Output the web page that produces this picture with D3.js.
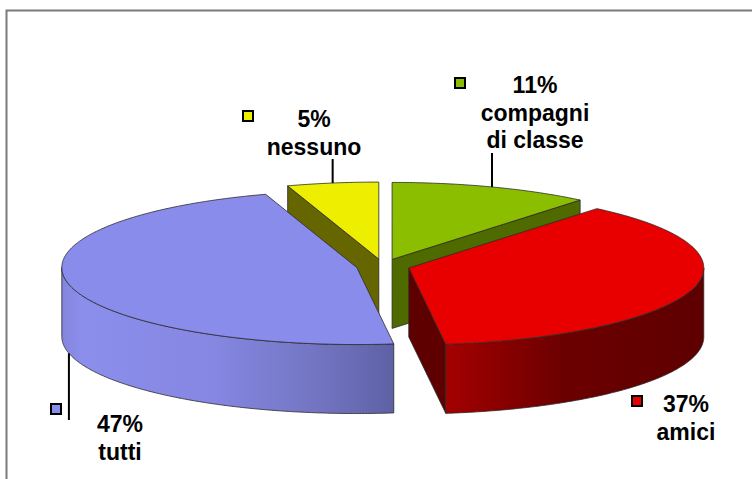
<!DOCTYPE html>
<html><head><meta charset="utf-8">
<script src="https://cdn.jsdelivr.net/npm/d3@7/dist/d3.min.js"></script>
<style>html,body{margin:0;padding:0;background:#fff;overflow:hidden} svg{display:block}</style>
</head><body>
<svg id="chart" width="752" height="479"></svg>
<script>
// ---- data ----
const categories = ["compagni di classe", "amici", "tutti", "nessuno"];
const values = [11, 37, 47, 5];
const percentLabels = ["11%", "37%", "47%", "5%"];
const nameLabels = [["compagni", "di classe"], ["amici"], ["tutti"], ["nessuno"]];

// ---- styles ----
const topColors = ["#8cbe00", "#e80000", "#8a8ceb", "#eeee00"];
const cutColors = ["#4f6b00", "#5e0000", "#5a5ba0", "#666600"];
const sideStops = [
  [["0", "#4f6b00"], ["1", "#4f6b00"]],
  [["0", "#a40000"], ["0.45", "#6c0000"], ["1", "#5e0000"]],
  [["0", "#8284dc"], ["0.06", "#8c8eec"], ["0.45", "#8587e2"], ["0.75", "#7476c4"], ["1", "#5f61a6"]],
  [["0", "#666600"], ["1", "#666600"]]
];

// ---- layout ----
const cx = 383, cy = 266, rx = 295, ry = 77, depth = 69, explode = 0.091;
const labelLayout = [
  {x: 535, y: 93, mx: 454, my: 77, leaderTo: 153, fromBottom: false},
  {x: 686, y: 412, mx: 631, my: 395, leaderTo: null, fromBottom: false},
  {x: 120, y: 432, mx: 50, my: 403, leaderTo: 420, fromBottom: true},
  {x: 314, y: 127, mx: 242, my: 110, leaderTo: 159, fromBottom: false}
];
const lineH = 27.5;

const svg = d3.select("#chart");
const defs = svg.append("defs");

// frame
svg.append("path").attr("d", "M6.5,479V10.5H752")
  .attr("fill", "none").attr("stroke", "#7a7a7a").attr("stroke-width", 2);

// projection scales (unit circle -> screen ellipse)
const sx = d3.scaleLinear().domain([-1, 1]).range([-rx, rx]);
const sy = d3.scaleLinear().domain([-1, 1]).range([ry, -ry]);

const pie = d3.pie().sort(null).value(d => d).startAngle(0).endAngle(2 * Math.PI);
const arcs = pie(values);

function centerOf(a) {
  const m = (a.startAngle + a.endAngle) / 2;
  return [cx + explode * sx(Math.sin(m)), cy + explode * sy(Math.cos(m))];
}
function pt(c, t, dy = 0) {
  return [c[0] + sx(Math.sin(t)), c[1] + sy(Math.cos(t)) + dy];
}
function samples(c, t0, t1, dy = 0) {
  const n = Math.max(2, Math.ceil((t1 - t0) / 0.01));
  return d3.range(n + 1).map(i => pt(c, t0 + (t1 - t0) * i / n, dy));
}
const line = d3.line();
const stroke = "#2a2a2a", sw = 0.8;

const order = [3, 0, 2, 1];
order.forEach(i => {
  const a = arcs[i];
  const c = centerOf(a);
  const g = svg.append("g");
  // cut faces
  const faces = [];
  if (Math.sin(a.startAngle) < -1e-6) faces.push(a.startAngle);
  if (Math.sin(a.endAngle) > 1e-6) faces.push(a.endAngle);
  faces.forEach(t => {
    const p = pt(c, t);
    g.append("path")
      .attr("d", line([c, p, [p[0], p[1] + depth], [c[0], c[1] + depth]]) + "Z")
      .attr("fill", cutColors[i]).attr("stroke", stroke).attr("stroke-width", sw)
      .attr("stroke-linejoin", "round");
  });
  // outer side (front half)
  const s0 = Math.max(a.startAngle, Math.PI / 2), s1 = Math.min(a.endAngle, 3 * Math.PI / 2);
  if (s1 > s0) {
    const top = samples(c, s0, s1);
    const bot = samples(c, s0, s1, depth).reverse();
    const xs = top.map(p => p[0]);
    const gid = "side" + i;
    const lg = defs.append("linearGradient").attr("id", gid)
      .attr("gradientUnits", "userSpaceOnUse")
      .attr("x1", d3.min(xs)).attr("x2", d3.max(xs)).attr("y1", 0).attr("y2", 0);
    sideStops[i].forEach(s => lg.append("stop").attr("offset", s[0]).attr("stop-color", s[1]));
    g.append("path").attr("d", line(top.concat(bot)) + "Z")
      .attr("fill", `url(#${gid})`).attr("stroke", stroke).attr("stroke-width", sw)
      .attr("stroke-linejoin", "round");
  }
  // top face
  const topPts = [c].concat(samples(c, a.startAngle, a.endAngle));
  g.append("path").attr("d", line(topPts) + "Z")
    .attr("fill", topColors[i]).attr("stroke", stroke).attr("stroke-width", sw)
    .attr("stroke-linejoin", "round");
});

// labels, leaders and legend keys
arcs.forEach((a, i) => {
  const L = labelLayout[i];
  const c = centerOf(a);
  const m = (a.startAngle + a.endAngle) / 2;
  if (L.leaderTo !== null) {
    const p = pt(c, m, L.fromBottom ? depth : 0);
    svg.append("line").attr("x1", p[0]).attr("y1", p[1]).attr("x2", p[0]).attr("y2", L.leaderTo)
      .attr("stroke", "#000").attr("stroke-width", 2);
  }
  svg.append("rect").attr("x", L.mx + 1).attr("y", L.my + 1).attr("width", 10).attr("height", 10)
    .attr("fill", topColors[i]).attr("stroke", "#000").attr("stroke-width", 2);
  const lines = [percentLabels[i]].concat(nameLabels[i]);
  const t = svg.append("text").attr("text-anchor", "middle")
    .attr("font-family", "'Liberation Sans', Arial, sans-serif")
    .attr("font-weight", "bold").attr("font-size", 23).attr("fill", "#000");
  lines.forEach((s, k) => t.append("tspan").attr("x", L.x).attr("y", L.y + k * lineH).text(s));
});
</script>
</body></html>
